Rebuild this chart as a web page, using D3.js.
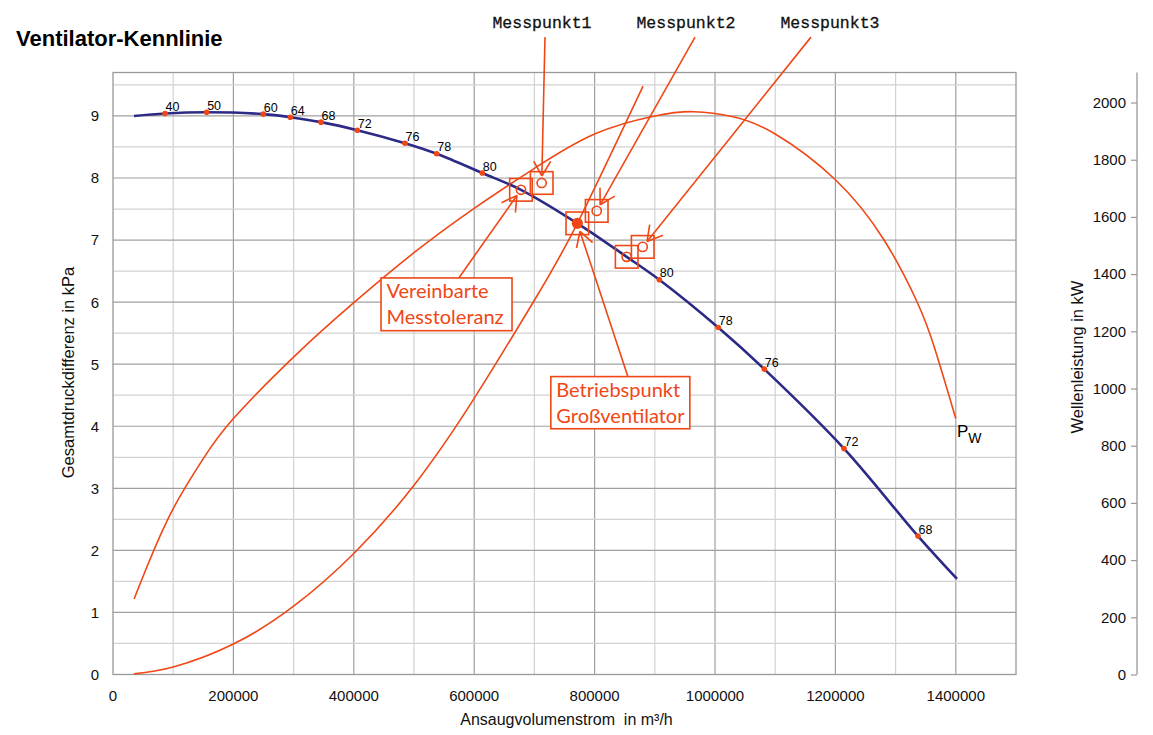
<!DOCTYPE html>
<html>
<head>
<meta charset="utf-8">
<script src="https://cdn.jsdelivr.net/npm/d3@7"></script>
<style>
  body { margin:0; background:#fff; }
  svg { display:block; font-family: "Liberation Sans", Arial, Helvetica, sans-serif; }
</style>
</head>
<body>
<svg id="chart" width="1153" height="735"></svg>
<script>
// ---------------- DATA ----------------
// Fan pressure curve (Gesamtdruckdifferenz, kPa) vs. volume flow (m³/h)
const pressureQ = [34900, 86400, 155600, 249700, 294500, 345500, 405800, 485000, 537700, 613400, 677700, 771300, 853300, 907500, 1005400, 1081900, 1214300, 1337200, 1402000];
const pressureDp = [9.00, 9.04, 9.06, 9.03, 8.98, 8.90, 8.77, 8.56, 8.39, 8.08, 7.81, 7.27, 6.73, 6.36, 5.59, 4.92, 3.64, 2.23, 1.54];

// Efficiency markers on the pressure curve
const effQ = [86400, 155600, 249700, 294500, 345500, 405800, 485000, 537700, 613400, 907500, 1005400, 1081900, 1214300, 1337200];
const effDp = [9.04, 9.06, 9.03, 8.98, 8.90, 8.77, 8.56, 8.39, 8.08, 6.36, 5.59, 4.92, 3.64, 2.23];
const effLabels = ["40", "50", "60", "64", "68", "72", "76", "78", "80", "80", "78", "76", "72", "68"];

// Shaft power curve (Wellenleistung, kW) – right axis
const powerQ = [35000, 60000, 100000, 150000, 200000, 300000, 400000, 500000, 600000, 700000, 800000, 900000, 965000, 1030000, 1100000, 1200000, 1280000, 1335000, 1365000, 1400000];
const powerKW = [264, 395, 580, 755, 895, 1110, 1300, 1475, 1630, 1770, 1890, 1953, 1968, 1950, 1890, 1730, 1522, 1306, 1140, 895];

// System (plant) curve – left axis
const systemQ = [35000, 100000, 200000, 300000, 400000, 500000, 600000, 700000, 771300, 880400];
const systemDp = [0.01, 0.12, 0.49, 1.10, 1.95, 3.05, 4.45, 6.03, 7.27, 9.48];

// Measured points (open circles in boxes)
const measNames = ["Toleranz", "Messpunkt1", "Messpunkt2", "Messpunkt3a", "Messpunkt3b"];
const measQ = [677700, 712100, 803500, 853300, 879900];
const measDp = [7.81, 7.92, 7.47, 6.73, 6.89];

// Operating point
const opQ = [771300];
const opDp = [7.27];

// Axis ticks
const xTicks = [0, 200000, 400000, 600000, 800000, 1000000, 1200000, 1400000];
const yTicks = [0, 1, 2, 3, 4, 5, 6, 7, 8, 9];
const y2Ticks = [0, 200, 400, 600, 800, 1000, 1200, 1400, 1600, 1800, 2000];

// Callout labels at top (label anchor and line tail in data units)
const calloutText = ["Messpunkt1", "Messpunkt2", "Messpunkt3"];
const calloutLabelQ = [712600, 951800, 1191000];
const calloutTailQ = [717600, 966800, 1159400];
const calloutTargetIdx = [1, 2, 4];
const calloutLabelDp = 10.42;
const calloutTailDp = 10.27;

// ---------------- CHART ----------------
const svg = d3.select("#chart");
const orange = "#ef4716";
const navy = "#2c2a86";
const sans = '"Liberation Sans", Arial, Helvetica, sans-serif';

const x = d3.scaleLinear().domain([0, 1500000]).range([113, 1016]);
const y = d3.scaleLinear().domain([0, 9.7]).range([674.5, 72.5]);
const y2 = d3.scaleLinear().domain([0, 2105]).range([674.5, 72.5]);

svg.append("rect").attr("width", 1153).attr("height", 735).attr("fill", "#fff");

// Grid
const g = svg.append("g");
const xMinor = d3.range(100000, 1500000, 100000);
const yMinor = d3.range(0.5, 9.7, 0.5);
g.selectAll(".vg").data(xMinor).join("line")
  .attr("x1", d => x(d)).attr("x2", d => x(d))
  .attr("y1", y(0)).attr("y2", y(9.7))
  .attr("stroke", d => (d % 200000 === 0) ? "#a0a0a0" : "#d2d2d2")
  .attr("stroke-width", 1.2);
g.selectAll(".hg").data(yMinor).join("line")
  .attr("x1", x(0)).attr("x2", x(1500000))
  .attr("y1", d => y(d)).attr("y2", d => y(d))
  .attr("stroke", d => (Math.abs(d - Math.round(d)) < 1e-6) ? "#a0a0a0" : "#d2d2d2")
  .attr("stroke-width", 1.2);
g.append("rect")
  .attr("x", x(0)).attr("y", y(9.7))
  .attr("width", x(1500000) - x(0)).attr("height", y(0) - y(9.7))
  .attr("fill", "none").attr("stroke", "#999").attr("stroke-width", 1.3);

// Left axis labels
svg.append("g").selectAll("text").data(yTicks).join("text")
  .attr("x", 99).attr("y", d => y(d)).attr("dy", "0.36em")
  .attr("text-anchor", "end").attr("font-size", 15).attr("fill", "#111")
  .text(d => d);

// Bottom axis labels
svg.append("g").selectAll("text").data(xTicks).join("text")
  .attr("x", d => x(d)).attr("y", 701)
  .attr("text-anchor", "middle").attr("font-size", 15).attr("fill", "#111")
  .text(d => d);

// Right axis
const rAxis = d3.axisLeft(y2).tickValues(y2Ticks).tickSize(6).tickPadding(5).tickFormat(d3.format("d"));
const ra = svg.append("g").attr("transform", "translate(1137,0)").call(rAxis);
ra.select(".domain").attr("stroke", "#999").attr("stroke-width", 1.3).attr("d", `M0,${y2(2105)}V${y2(0)}`);
ra.selectAll(".tick line").attr("stroke", "#999").attr("stroke-width", 1.2);
ra.selectAll(".tick text").attr("font-size", 15).attr("fill", "#111").style("font-family", sans);

// Titles
svg.append("text").attr("x", 16).attr("y", 46)
  .attr("font-size", 22).attr("font-weight", "bold").attr("fill", "#000")
  .text("Ventilator-Kennlinie");
svg.append("text").attr("transform", "translate(73.5,372.5) rotate(-90)")
  .attr("text-anchor", "middle").attr("font-size", 16.5).attr("fill", "#111")
  .text("Gesamtdruckdifferenz in kPa");
svg.append("text").attr("transform", "translate(1082.5,357) rotate(-90)")
  .attr("text-anchor", "middle").attr("font-size", 16.5).attr("fill", "#111")
  .text("Wellenleistung in kW");
svg.append("text").attr("x", 566.5).attr("y", 725)
  .attr("text-anchor", "middle").attr("font-size", 16).attr("fill", "#111")
  .attr("xml:space", "preserve")
  .text("Ansaugvolumenstrom  in m³/h");

// Curves
const lineL = d3.line().x(d => x(d[0])).y(d => y(d[1])).curve(d3.curveCatmullRom.alpha(0.5));
const lineLN = d3.line().x(d => x(d[0])).y(d => y(d[1])).curve(d3.curveNatural);
const lineR = d3.line().x(d => x(d[0])).y(d => y2(d[1])).curve(d3.curveNatural);

svg.append("path").datum(d3.zip(powerQ, powerKW)).attr("d", lineR)
  .attr("fill", "none").attr("stroke", orange).attr("stroke-width", 1.6);
svg.append("path").datum(d3.zip(systemQ, systemDp)).attr("d", lineLN)
  .attr("fill", "none").attr("stroke", orange).attr("stroke-width", 1.6);
svg.append("path").datum(d3.zip(pressureQ, pressureDp)).attr("d", lineL)
  .attr("fill", "none").attr("stroke", navy).attr("stroke-width", 2.6);

// Efficiency markers + labels
const eff = d3.zip(effQ, effDp, effLabels);
svg.append("g").selectAll("circle").data(eff).join("circle")
  .attr("cx", d => x(d[0])).attr("cy", d => y(d[1])).attr("r", 2.8).attr("fill", orange);
svg.append("g").selectAll("text").data(eff).join("text")
  .attr("x", d => x(d[0]) + 0.5).attr("y", d => y(d[1]) - 2.5)
  .attr("font-size", 12.5).attr("fill", "#000").text(d => d[2]);

// Measured points: boxes + open circles
const meas = d3.zip(measQ, measDp);
const box = 22.6;
svg.append("g").selectAll("rect").data(meas.concat(d3.zip(opQ, opDp))).join("rect")
  .attr("x", d => x(d[0]) - box / 2).attr("y", d => y(d[1]) - box / 2)
  .attr("width", box).attr("height", box)
  .attr("fill", "none").attr("stroke", orange).attr("stroke-width", 1.6);
svg.append("g").selectAll("circle").data(meas).join("circle")
  .attr("cx", d => x(d[0])).attr("cy", d => y(d[1])).attr("r", 4.6)
  .attr("fill", "none").attr("stroke", orange).attr("stroke-width", 1.6);
svg.append("g").selectAll("circle").data(d3.zip(opQ, opDp)).join("circle")
  .attr("cx", d => x(d[0])).attr("cy", d => y(d[1])).attr("r", 5.6).attr("fill", orange);

// Arrow helper (pixel space)
const arrows = svg.append("g").attr("stroke", orange).attr("stroke-width", 1.6).attr("fill", "none");
function arrow(tx, ty, px, py, gap) {
  const dx = px - tx, dy = py - ty, L = Math.hypot(dx, dy);
  const ux = dx / L, uy = dy / L;
  const ex = px - ux * gap, ey = py - uy * gap;
  arrows.append("line").attr("x1", tx).attr("y1", ty).attr("x2", ex).attr("y2", ey);
  const bx = -ux, by = -uy, a = Math.PI / 6, h = 17;
  [a, -a].forEach(t => {
    const rx = bx * Math.cos(t) - by * Math.sin(t);
    const ry = bx * Math.sin(t) + by * Math.cos(t);
    arrows.append("line").attr("x1", ex).attr("y1", ey).attr("x2", ex + rx * h).attr("y2", ey + ry * h);
  });
}

// Top callouts
calloutText.forEach((t, i) => {
  svg.append("text").attr("x", x(calloutLabelQ[i])).attr("y", y(calloutLabelDp))
    .attr("text-anchor", "middle")
    .style("font-family", '"Liberation Mono", "Courier New", monospace')
    .attr("font-size", 16.5).attr("fill", "#111").attr("stroke", "#111").attr("stroke-width", 0.3)
    .text(t);
  const k = calloutTargetIdx[i];
  arrow(x(calloutTailQ[i]), y(calloutTailDp), x(measQ[k]), y(measDp[k]), 7);
});

// Boxed text callouts
const boxLabels = [
  { lines: ["Vereinbarte", "Messtoleranz"], q0: 445200, dp0: 6.39, q1: 662800, dp1: 5.54, tailQ: 574500, target: [measQ[0], measDp[0]], gap: 7 },
  { lines: ["Betriebspunkt", "Großventilator"], q0: 727300, dp0: 4.80, q1: 958200, dp1: 3.96, tailQ: 855200, target: [opQ[0], opDp[0]], gap: 8.5 }
];
boxLabels.forEach(b => {
  const bx0 = x(b.q0), by0 = y(b.dp0), bx1 = x(b.q1), by1 = y(b.dp1);
  svg.append("rect").attr("x", bx0).attr("y", by0).attr("width", bx1 - bx0).attr("height", by1 - by0)
    .attr("fill", "#fff").attr("stroke", orange).attr("stroke-width", 1.6);
  b.lines.forEach((t, j) => {
    svg.append("text").attr("x", bx0 + 5.5).attr("y", by0 + 20.5 + j * 25.7)
      .style("font-family", "Lato, 'Open Sans', sans-serif").attr("font-size", 20).attr("fill", orange)
      .text(t);
  });
  arrow(x(b.tailQ), by0, x(b.target[0]), y(b.target[1]), b.gap);
});

// Pw label
const pw = svg.append("text").attr("x", x(1402000)).attr("y", y(3.83)).attr("font-size", 17).attr("fill", "#000");
pw.append("tspan").text("P");
pw.append("tspan").attr("dy", 6).attr("font-size", 14).text("W");
</script>
</body>
</html>
